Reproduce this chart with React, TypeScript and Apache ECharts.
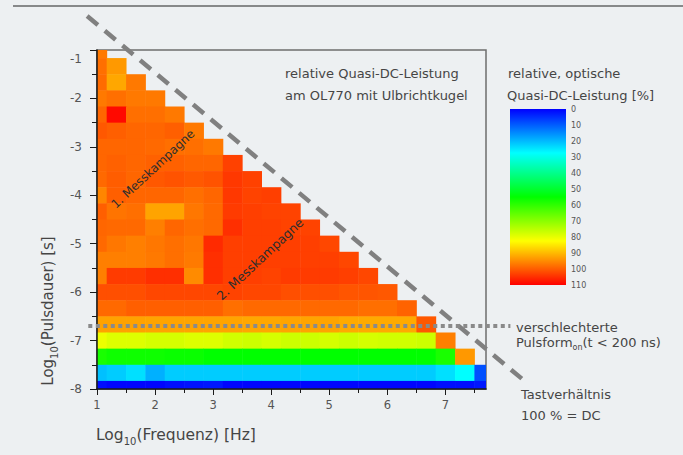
import React, { useEffect, useRef } from "react";
import * as echarts from "echarts";

const FONT = '"DejaVu Sans", sans-serif';

// grid of the measurement: log10(f) of first column, log10(t) of first row, 1/3 decade steps
const firstLogFreq = 1;
const firstLogPulse = -1;
const cellStep = 1 / 3;

// relative quasi-DC power [%]; one row per pulse duration (log t = -1 ... -8),
// one value per frequency column starting at log f = 1
const row00 = [97];
const row01 = [98, 93.5];
const row02 = [98.5, 92, 97];
const row03 = [97, 98, 97, 97];
const row04 = [99, 109, 98, 98, 97];
const row05 = [100.5, 99.8, 99, 99, 99.8, 97];
const row06 = [99, 99, 99, 98.7, 98, 98, 97];
const row07 = [99, 99.5, 99, 99.5, 99.5, 99, 99, 103];
const row08 = [98.7, 100, 99, 100.5, 101, 100.4, 101, 104, 103];
const row09 = [95.5, 99.8, 99, 99, 99, 98, 99, 104, 102.8, 103.2];
const row10 = [99.8, 97.5, 98, 92.3, 92.3, 97.2, 98.7, 103.6, 103.2, 102.8, 102.8];
const row11 = [99, 98.7, 98.7, 96.3, 99, 98, 98.7, 104.9, 103.2, 103.2, 102.8, 102.8];
const row12 = [98.7, 97.2, 96.3, 97.2, 98, 97.2, 105.5, 103.2, 103.2, 103.2, 103.2, 103.2, 102.3];
const row13 = [96.3, 96.3, 96.3, 97, 98, 96.8, 104.9, 103.2, 103.2, 103.2, 103.2, 103.2, 103.2, 102.3];
const row14 = [96.3, 103.6, 103.6, 104.9, 104.9, 95, 104.9, 103.2, 103.2, 102.8, 103.6, 103.6, 103.6, 103.2, 102.3];
const row15 = [101.5, 101.5, 101.5, 102.3, 102.3, 102.3, 102.3, 102.8, 102.3, 102.3, 101.5, 101.5, 101.5, 100.8, 100.8, 100.5];
const row16 = [98.7, 98.7, 99.8, 99.8, 99.8, 99.8, 99.8, 98, 98.7, 98.7, 98.7, 98.7, 98.7, 98.7, 98, 98, 99.3];
const row17 = [92.5, 92.5, 92.5, 92.3, 92.3, 92.3, 92.3, 92.3, 92, 92, 92.3, 92.3, 92.3, 91.7, 91.7, 91.7, 91.7, 100.5];
const row18 = [80.5, 78.8, 78.8, 78, 78, 78.8, 78.8, 77.5, 77, 78, 77, 77, 78, 77, 78, 77.5, 77.5, 77, 96.3];
const row19 = [57.7, 56.5, 56.5, 56.5, 56, 56, 55, 55, 55, 55, 55, 55, 55, 55, 55, 55, 55, 55, 57.7, 93.6];
const row20 = [20.7, 22, 24.2, 19, 22, 22, 22, 22, 22, 22, 22, 22, 22, 22, 22, 22, 22, 22, 24.2, 27.5, 8.6];
const row21 = [1.5, 0.5, 0.5, 0.5, 1.5, 2, 2.5, 0.5, 0.5, 0.5, 0.5, 0.5, 0.5, 0.5, 0.5, 0.5, 0.5, 0.5, 1.5, 1.5, 2.5];
const heatRows = [
  row00, row01, row02, row03, row04, row05, row06, row07, row08, row09, row10,
  row11, row12, row13, row14, row15, row16, row17, row18, row19, row20, row21,
];

const xMin = 1;
const xMax = 7.7;
const yMin = -8;
const yMax = -1;
const xTickValues = [1, 2, 3, 4, 5, 6, 7];
const xMinorValues = [1.5, 2.5, 3.5, 4.5, 5.5, 6.5, 7.5];
const yTickValues = [-1, -2, -3, -4, -5, -6, -7, -8];
const yMinorValues = [-1.5, -2.5, -3.5, -4.5, -5.5, -6.5, -7.5];
const colorbarMin = 0;
const colorbarMax = 110;
const colorbarStep = 10;
const colorScale = ["#0000ff", "#00ffff", "#00ff00", "#ffff00", "#ff0000"];

// duty cycle 100 % (t * f = 1) boundary, drawn with a small offset as in the original
const dutyCycleLine = [0.83, -0.3, 8.35, -7.82];
// 200 ns pulse duration limit
const pulseLimitLog = Math.log10(200e-9);
const pulseLimitLine = [0.85, pulseLimitLog, 8.12, pulseLimitLog];

const heatData: number[][] = [];
heatRows.forEach((row, r) =>
  row.forEach((v, c) => {
    heatData.push([firstLogFreq + c * cellStep, firstLogPulse - r * cellStep, v]);
  })
);

const segmentSeries = (seg: number[], stroke: string, width: number, dash: number[]) => ({
  type: "custom",
  xAxisIndex: 0,
  yAxisIndex: 0,
  data: [seg],
  encode: { x: [0, 2], y: [1, 3] },
  silent: true,
  clip: false,
  z: 10,
  renderItem: (_params: any, api: any) => {
    const a = api.coord([api.value(0), api.value(1)]);
    const b = api.coord([api.value(2), api.value(3)]);
    return {
      type: "line",
      shape: { x1: a[0], y1: a[1], x2: b[0], y2: b[1] },
      style: { stroke, lineWidth: width, lineDash: dash, lineCap: "butt", fill: null },
    };
  },
});

export default function App() {
  const ref = useRef<HTMLDivElement>(null);
  useEffect(() => {
    if (!ref.current) return;
    const chart = echarts.init(ref.current, null, { renderer: "svg" });
    const txt = "#454545";
    const tickCol = "#1a1a1a";
    const option: any = {
      animation: false,
      backgroundColor: "#edf0f2",
      textStyle: { fontFamily: FONT },
      grid: [
        {
          left: 97, top: 50, width: 389, height: 339, show: true,
          borderColor: "#6e6e6e", borderWidth: 1.5, backgroundColor: "transparent",
        },
        { left: 510, top: 109, width: 56, height: 176 },
      ],
      xAxis: [
        {
          type: "value", gridIndex: 0, min: xMin, max: xMax, position: "bottom", z: 5,
          axisLine: { show: true, onZero: false, lineStyle: { color: tickCol, width: 1.5 } },
          axisTick: { show: true, length: 6, customValues: xTickValues, lineStyle: { color: tickCol, width: 1 } },
          axisLabel: { customValues: xTickValues, margin: 10, fontSize: 11.5, color: "#555", fontFamily: FONT },
          splitLine: { show: false },
        },
        {
          type: "value", gridIndex: 0, min: xMin, max: xMax, position: "bottom", z: 5,
          axisLine: { show: false, onZero: false },
          axisTick: { show: true, length: 4, customValues: xMinorValues, lineStyle: { color: tickCol, width: 1 } },
          axisLabel: { show: false },
          splitLine: { show: false },
        },
        { type: "category", gridIndex: 1, data: [""], show: false },
      ],
      yAxis: [
        {
          type: "value", gridIndex: 0, min: yMin, max: yMax, position: "left", z: 5,
          axisLine: { show: true, onZero: false, lineStyle: { color: tickCol, width: 1.5 } },
          axisTick: { show: true, length: 7, customValues: yTickValues, lineStyle: { color: tickCol, width: 1 } },
          axisLabel: {
            customValues: yTickValues, margin: 15, fontSize: 12, color: "#555", fontFamily: FONT,
            formatter: (v: number) => (v === yMax ? "{top|" + v + "}" : String(v)),
            rich: { top: { padding: [18, 0, 0, 0], fontSize: 12, color: "#555", fontFamily: FONT } },
          },
          splitLine: { show: false },
        },
        {
          type: "value", gridIndex: 0, min: yMin, max: yMax, position: "left", z: 5,
          axisLine: { show: false, onZero: false },
          axisTick: { show: true, length: 5, customValues: yMinorValues, lineStyle: { color: tickCol, width: 1 } },
          axisLabel: { show: false },
          splitLine: { show: false },
        },
        {
          type: "value", gridIndex: 1, min: colorbarMin, max: colorbarMax, interval: colorbarStep,
          inverse: true, position: "right",
          axisLine: { show: false }, axisTick: { show: false }, splitLine: { show: false },
          axisLabel: { margin: 5, fontSize: 8, color: "#555", fontFamily: FONT },
        },
      ],
      visualMap: {
        type: "continuous", show: false, min: colorbarMin, max: colorbarMax,
        dimension: 2, seriesIndex: 0, inRange: { color: colorScale },
      },
      series: [
        {
          type: "custom", xAxisIndex: 0, yAxisIndex: 0, data: heatData, silent: true,
          encode: { x: 0, y: 1 },
          renderItem: (params: any, api: any) => {
            const x = api.value(0);
            const y = api.value(1);
            const p0 = api.coord([x - cellStep / 2, y + cellStep / 2]);
            const p1 = api.coord([x + cellStep / 2, y - cellStep / 2]);
            const cs = params.coordSys;
            const rect = echarts.graphic.clipRectByRect(
              { x: p0[0], y: p0[1], width: p1[0] - p0[0] + 0.5, height: p1[1] - p0[1] + 0.5 },
              { x: cs.x, y: cs.y, width: cs.width, height: cs.height }
            );
            if (!rect) return;
            return { type: "rect", shape: rect, style: { fill: api.visual("color") } };
          },
        },
        {
          type: "bar", xAxisIndex: 2, yAxisIndex: 2, data: [colorbarMax], barWidth: "100%", silent: true,
          itemStyle: {
            color: new echarts.graphic.LinearGradient(
              0, 0, 0, 1,
              colorScale.map((c, i) => ({ offset: i / (colorScale.length - 1), color: c }))
            ),
          },
        },
        segmentSeries(dutyCycleLine, "#808080", 4.5, [14, 9]),
        segmentSeries(pulseLimitLine, "#8a8a8a", 4, [4, 3.5]),
      ],
      graphic: [
        { type: "line", shape: { x1: 13, y1: 6, x2: 683, y2: 6 }, style: { stroke: "#222", lineWidth: 1.2 } },
        {
          type: "text", x: 285, y: 73, z: 100,
          style: { text: "relative Quasi-DC-Leistung", fontSize: 13, fontFamily: FONT, fill: txt, verticalAlign: "middle" },
        },
        {
          type: "text", x: 285, y: 95, z: 100,
          style: { text: "am OL770 mit Ulbrichtkugel", fontSize: 13, fontFamily: FONT, fill: txt, verticalAlign: "middle" },
        },
        {
          type: "text", x: 508, y: 73, z: 100,
          style: { text: "relative, optische", fontSize: 13, fontFamily: FONT, fill: txt, verticalAlign: "middle" },
        },
        {
          type: "text", x: 507, y: 95, z: 100,
          style: { text: "Quasi-DC-Leistung [%]", fontSize: 13, fontFamily: FONT, fill: txt, verticalAlign: "middle" },
        },
        {
          type: "text", x: 516, y: 327, z: 100,
          style: { text: "verschlechterte", fontSize: 13, fontFamily: FONT, fill: txt, verticalAlign: "middle" },
        },
        {
          type: "text", x: 516, y: 342, z: 100,
          style: {
            text: "{a|Pulsform}{s|on}{a|(t < 200 ns)}", verticalAlign: "middle",
            rich: {
              a: { fontSize: 13, fontFamily: FONT, fill: txt },
              s: { fontSize: 8, fontFamily: FONT, fill: txt, padding: [10, 0, 0, 0] },
            },
          },
        },
        {
          type: "text", x: 521, y: 394, z: 100,
          style: { text: "Tastverhältnis", fontSize: 13, fontFamily: FONT, fill: txt, verticalAlign: "middle" },
        },
        {
          type: "text", x: 521, y: 415, z: 100,
          style: { text: "100 % = DC", fontSize: 13, fontFamily: FONT, fill: txt, verticalAlign: "middle" },
        },
        {
          type: "text", x: 153, y: 169, rotation: (43 * Math.PI) / 180, z: 100,
          style: { text: "1. Messkampagne", fontSize: 12, fontFamily: FONT, fill: "#2e2e2e", align: "center", verticalAlign: "middle" },
        },
        {
          type: "text", x: 260, y: 259, rotation: (43 * Math.PI) / 180, z: 100,
          style: { text: "2. Messkampagne", fontSize: 12.5, fontFamily: FONT, fill: "#2e2e2e", align: "center", verticalAlign: "middle" },
        },
        {
          type: "text", x: 96, y: 435, z: 100,
          style: {
            text: "{a|Log}{s|10}{a|(Frequenz) [Hz]}", verticalAlign: "middle",
            rich: {
              a: { fontSize: 15.5, fontFamily: FONT, fill: txt },
              s: { fontSize: 10, fontFamily: FONT, fill: txt, padding: [12, 0, 0, 0] },
            },
          },
        },
        {
          type: "text", x: 48, y: 311, rotation: Math.PI / 2, z: 100,
          style: {
            text: "{a|Log}{s|10}{a|(Pulsdauer) [s]}", align: "center", verticalAlign: "middle",
            rich: {
              a: { fontSize: 15, fontFamily: FONT, fill: txt },
              s: { fontSize: 10, fontFamily: FONT, fill: txt, padding: [12, 0, 0, 0] },
            },
          },
        },
      ],
    };
    chart.setOption(option);
    return () => chart.dispose();
  }, []);
  return <div ref={ref} style={{ position: "fixed", left: 0, top: 0, width: 683, height: 455 }} />;
}
